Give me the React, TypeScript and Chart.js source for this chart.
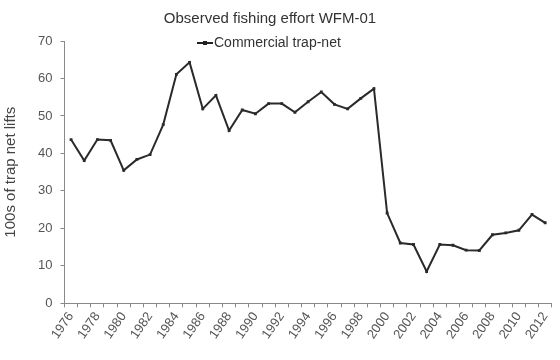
import React, { useEffect, useRef } from "react";
import { Chart, registerables } from "chart.js";

Chart.register(...registerables);

const years: string[] = [
  "1976", "1977", "1978", "1979", "1980", "1981", "1982", "1983", "1984", "1985",
  "1986", "1987", "1988", "1989", "1990", "1991", "1992", "1993", "1994", "1995",
  "1996", "1997", "1998", "1999", "2000", "2001", "2002", "2003", "2004", "2005",
  "2006", "2007", "2008", "2009", "2010", "2011", "2012",
];

const trapNetLifts: number[] = [
  43.7, 38.1, 43.7, 43.5, 35.5, 38.4, 39.7, 47.7, 61.1, 64.3,
  51.9, 55.5, 46.1, 51.6, 50.6, 53.3, 53.3, 51.0, 53.8, 56.4,
  53.1, 51.9, 54.7, 57.3, 24.1, 16.1, 15.7, 8.5, 15.7, 15.5,
  14.2, 14.1, 18.3, 18.8, 19.5, 23.7, 21.5,
];

const yMin = 0;
const yMax = 70;
const yStep = 10;

const chartTitle = "Observed fishing effort WFM-01";
const seriesLabel = "Commercial trap-net";
const yAxisTitle = "100s of trap net lifts";

const FONT = "'Liberation Sans Narrow', 'Arial Narrow', 'Liberation Sans', Arial, sans-serif";

const overlayPlugin = {
  id: "overlay",
  afterDraw(chart: any) {
    const ctx = chart.ctx as CanvasRenderingContext2D;
    ctx.save();
    ctx.fillStyle = "#333";
    ctx.textBaseline = "middle";
    ctx.textAlign = "center";
    ctx.font = `15px ${FONT}`;
    ctx.fillText(chartTitle, 270, 19);

    // legend
    ctx.strokeStyle = "#222";
    ctx.lineWidth = 2;
    ctx.beginPath();
    ctx.moveTo(197, 43);
    ctx.lineTo(213, 43);
    ctx.stroke();
    ctx.fillStyle = "#222";
    ctx.fillRect(203, 41, 4, 4);
    ctx.fillStyle = "#333";
    ctx.textAlign = "left";
    ctx.font = `14px ${FONT}`;
    ctx.fillText(seriesLabel, 214, 43);
    ctx.restore();
  },
};

export default function App() {
  const ref = useRef<HTMLCanvasElement | null>(null);

  useEffect(() => {
    if (!ref.current) return;
    const chart = new Chart(ref.current, {
      type: "line",
      data: {
        labels: years,
        datasets: [
          {
            label: seriesLabel,
            data: trapNetLifts,
            borderColor: "#2a2a2a",
            backgroundColor: "#2a2a2a",
            borderWidth: 2,
            pointStyle: "rect",
            pointRadius: 2,
            pointBorderWidth: 0,
            tension: 0,
          },
        ],
      },
      options: {
        responsive: false,
        animation: false,
        layout: { padding: { top: 41, right: 0, left: 2, bottom: 16 } },
        plugins: {
          legend: { display: false },
          title: { display: false },
          tooltip: { enabled: false },
        },
        scales: {
          x: {
            offset: true,
            border: { display: true, color: "#888", width: 1 },
            grid: { display: true, drawOnChartArea: false, tickLength: 4, color: "#888", offset: true },
            ticks: {
              autoSkip: false,
              minRotation: 55,
              maxRotation: 55,
              color: "#555",
              padding: 2,
              font: { family: FONT, size: 13 },
              callback: (_v: any, i: number) => (i % 2 === 0 ? years[i] : ""),
            },
          },
          y: {
            min: yMin,
            max: yMax,
            border: { display: true, color: "#888", width: 1 },
            grid: { display: true, drawOnChartArea: false, tickLength: 4, color: "#888" },
            ticks: {
              stepSize: yStep,
              color: "#555",
              padding: 8,
              font: { family: FONT, size: 13 },
            },
            title: {
              display: true,
              text: yAxisTitle,
              color: "#444",
              padding: { top: 0, bottom: 10 },
              font: { family: FONT, size: 15 },
            },
          },
        },
      },
      plugins: [overlayPlugin],
    });
    return () => chart.destroy();
  }, []);

  return (
    <div style={{ position: "absolute", left: 0, top: 0, width: 560, height: 360, background: "#fff" }}>
      <canvas ref={ref} width={560} height={360} />
    </div>
  );
}
